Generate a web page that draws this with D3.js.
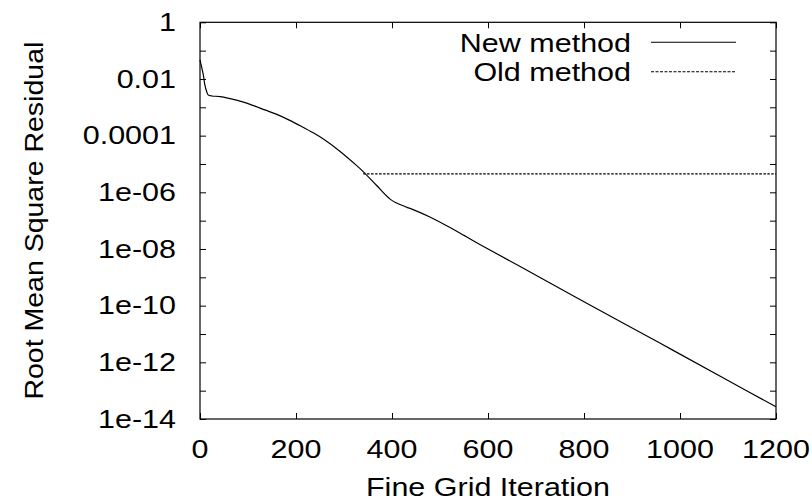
<!DOCTYPE html>
<html>
<head>
<meta charset="utf-8">
<script src="https://cdn.jsdelivr.net/npm/d3@7"></script>
<style>
  html, body { margin: 0; padding: 0; background: #fff; }
  svg { display: block; }
  text { font-family: "Liberation Sans", Arial, sans-serif; fill: #000; }
</style>
</head>
<body>
<svg id="chart" width="812" height="502"></svg>
<script>
// ---- data ----
const newIter = [0, 3, 7, 10, 14, 17, 25, 42, 65, 87, 110, 135, 160, 187, 210, 236, 257, 290, 326, 340, 368, 396, 410, 434, 444, 480, 514, 550, 583, 667, 800, 958, 1100, 1200];
const newLog  = [-1.33, -1.55, -1.86, -2.2, -2.45, -2.56, -2.6, -2.62, -2.7, -2.8, -2.93, -3.09, -3.25, -3.46, -3.66, -3.9, -4.12, -4.53, -5.05, -5.27, -5.76, -6.24, -6.38, -6.55, -6.61, -6.88, -7.18, -7.52, -7.84, -8.62, -9.86, -11.32, -12.64, -13.57];
const oldIter = [340, 450, 600, 750, 900, 1050, 1200];
const oldLog  = [-5.35, -5.35, -5.35, -5.35, -5.35, -5.35, -5.35];
const xTicks = [0, 200, 400, 600, 800, 1000, 1200];
const yTickValues = [1, 1e-2, 1e-4, 1e-6, 1e-8, 1e-10, 1e-12, 1e-14];
const yTickLabels = ["1", "0.01", "0.0001", "1e-06", "1e-08", "1e-10", "1e-12", "1e-14"];
const seriesNames = ["New method", "Old method"];
const xTitle = "Fine Grid Iteration";
const yTitle = "Root Mean Square Residual";

// ---- layout ----
const L = 200, R = 776, T = 22.3, B = 419;
const FS = 25, SX = 1.22;
const svg = d3.select("#chart");
const x = d3.scaleLinear().domain([0, 1200]).range([L, R]);
const y = d3.scaleLog().domain([1e-14, 1]).range([B, T]);

const newData = newIter.map((d, i) => [d, Math.pow(10, newLog[i])]);
const oldData = oldIter.map((d, i) => [d, Math.pow(10, oldLog[i])]);

// decade ticks
const decades = d3.range(-14, 1).map(e => Math.pow(10, e));

function axis(gen, tx, ty) {
  const g = svg.append("g").attr("transform", `translate(${tx},${ty})`).call(gen);
  g.select(".domain").remove();
  g.selectAll("line").attr("stroke", "#000").attr("stroke-width", 1);
  g.selectAll("text").remove();
  return g;
}
axis(d3.axisLeft(y).tickValues(decades).tickFormat("").tickSizeInner(-6).tickSizeOuter(0), L, 0);
axis(d3.axisRight(y).tickValues(decades).tickFormat("").tickSizeInner(-6).tickSizeOuter(0), R, 0);
axis(d3.axisBottom(x).tickValues(xTicks).tickFormat("").tickSizeInner(-6).tickSizeOuter(0), 0, B);
axis(d3.axisTop(x).tickValues(xTicks).tickFormat("").tickSizeInner(-6).tickSizeOuter(0), 0, T);

// frame
svg.append("rect").attr("x", L).attr("y", T).attr("width", R - L).attr("height", B - T)
  .attr("fill", "none").attr("stroke", "#000").attr("stroke-width", 1.2);

function label(txt, px, py, anchor, sx, rot) {
  return svg.append("text")
    .attr("transform", `translate(${px},${py})` + (rot ? ` rotate(${rot})` : "") + ` scale(${sx},1)`)
    .attr("text-anchor", anchor)
    .attr("font-size", FS)
    .text(txt);
}

// y tick labels
yTickValues.forEach((v, i) => label(yTickLabels[i], 176, y(v) + 8.8, "end", SX));
// x tick labels
xTicks.forEach(v => label(String(v), x(v), 458, "middle", SX));
// axis titles
label(xTitle, (L + R) / 2, 496, "middle", SX);
label(yTitle, 43, (T + B) / 2, "middle", 1.14, -90);

// lines
const line = d3.line().x(d => x(d[0])).y(d => y(d[1])).curve(d3.curveCatmullRom.alpha(0.5));
svg.append("path").datum(newData).attr("d", line)
  .attr("fill", "none").attr("stroke", "#000").attr("stroke-width", 1.2);
svg.append("path").datum(oldData).attr("d", line)
  .attr("fill", "none").attr("stroke", "#000").attr("stroke-width", 1.1)
  .attr("stroke-dasharray", "2.5,1.5");

// legend
const legY = [42.3, 71.7];
seriesNames.forEach((n, i) => {
  label(n, 631, legY[i] + 9.5, "end", SX);
  svg.append("line").attr("x1", 651).attr("x2", 736).attr("y1", legY[i]).attr("y2", legY[i])
    .attr("stroke", "#000").attr("stroke-width", 1.1)
    .attr("stroke-dasharray", i === 0 ? null : "3,1.5");
});
</script>
</body>
</html>
